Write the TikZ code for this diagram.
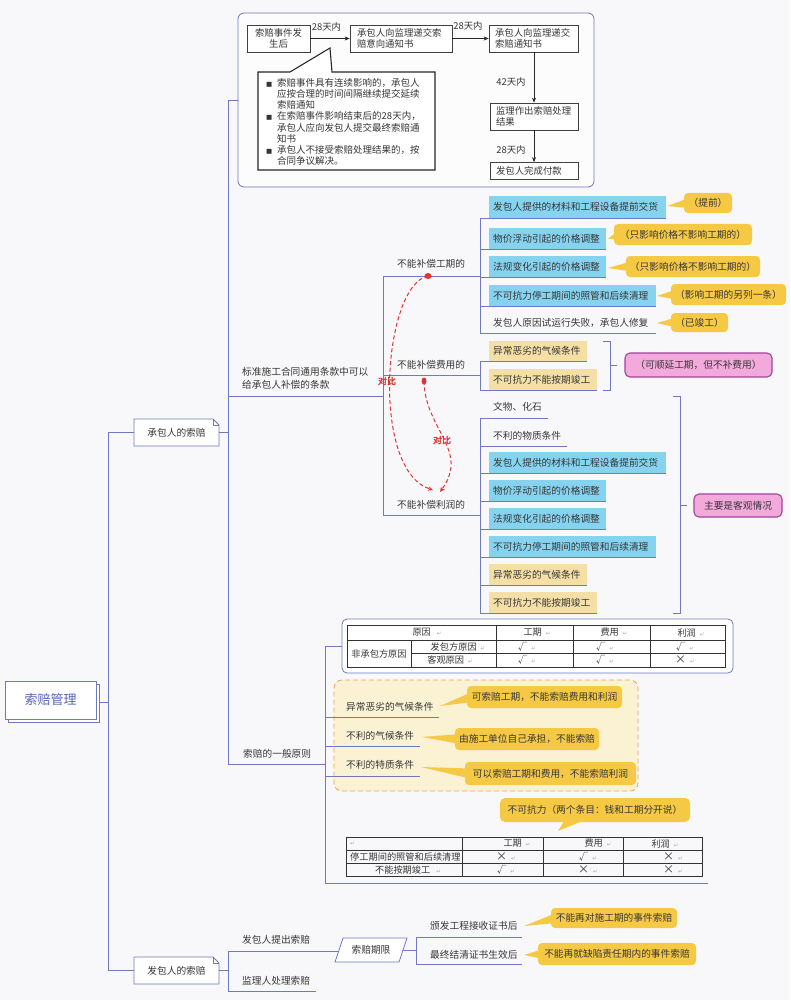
\documentclass[tikz,border=0pt]{standalone}
\usepackage{fontspec}
\setmainfont{Noto Sans CJK SC}[AutoFakeBold=2.5]
\newfontfamily\symf{DejaVu Sans}
\usetikzlibrary{arrows.meta,calc,shapes.geometric}
\definecolor{bg}{HTML}{F8F8FA}
\definecolor{ln}{HTML}{6E78C3}
\definecolor{cyanf}{HTML}{86D3F0}
\definecolor{tanf}{HTML}{F4DFA6}
\definecolor{yel}{HTML}{F6C945}
\definecolor{pinkf}{HTML}{F4A9DD}
\definecolor{pinkb}{HTML}{A2439E}
\definecolor{orf}{HTML}{FBF1D3}
\definecolor{orb}{HTML}{EFA25A}
\definecolor{redc}{HTML}{E03434}
\definecolor{txt}{HTML}{363636}
\definecolor{rootc}{HTML}{5563B5}
\tikzset{
  ml/.style={draw=ln, line width=0.8pt},
  tx/.style={anchor=west, inner sep=0pt},
  fbx/.style={draw=black!75, fill=white, line width=0.7pt, inner xsep=6pt, inner ysep=1pt},
  arr/.style={draw=black!85, line width=0.7pt, -{Stealth[length=5pt,width=4pt]}},
  ybody/.style={fill=yel, rounded corners=4pt, inner sep=0pt},
  pbody/.style={draw=pinkb, fill=pinkf, rounded corners=5pt, line width=1.1pt, inner sep=0pt},
  redarc/.style={draw=redc, line width=1pt, dash pattern=on 4pt off 2.5pt, -{Stealth[length=5pt,width=4.5pt]}},
  dbl/.style={text=redc, font=\fontsize{9}{10}\selectfont\bfseries, inner sep=0.5pt},
  tcell/.style={inner sep=0pt, font=\fontsize{9.2}{10}\selectfont},
  tline/.style={draw=black!80, line width=0.6pt},
  flabel/.style={inner sep=0pt, font=\fontsize{9.4}{11}\selectfont},
}
\newcommand{\rt}{{\color{black!35}\symf\fontsize{5.5}{6}\selectfont ↵}}
\newcommand{\bul}{{\symf\fontsize{6.5}{7}\selectfont ■}}
\newcommand{\ckm}{√}
\newcommand{\crs}{{\fontsize{11}{11}\selectfont ×}}
\newcommand{\ycall}[8]{%
  \fill[yel] (#6,#7) -- (#2+5,{(#3+#5)/2-5}) -- (#2+5,{(#3+#5)/2+5}) -- cycle;
  \node[ybody, minimum width={#4-#2}, minimum height={#5-#3}] (#1) at ({(#2+#4)/2},{(#3+#5)/2}) {#8};}
\newcommand{\leafbox}[6]{%
  \fill[#2] (489,#3) rectangle (#4,#5);
  \draw[ml] (480,#5) -- (#4,#5);
  \node[tx] (#1) at (493,{(#3+#5)/2}) {#6};}
\newcommand{\leafplain}[5]{%
  \node[tx] (#1) at (493,#2) {#5};
  \draw[ml] (480,#3) -- (#4,#3);}
\newcommand{\notebox}[4]{%
  \filldraw[fill=white, draw=ln, line width=0.8pt] (#2-42.5,#3-13.5) -- (#2+36.5,#3-13.5) -- (#2+42.5,#3-7.5) -- (#2+42.5,#3+13.5) -- (#2-42.5,#3+13.5) -- cycle;
  \draw[ln, line width=0.6pt] (#2+36.5,#3-13.5) -- (#2+36.5,#3-7.5) -- (#2+42.5,#3-7.5);
  \node[minimum width=85pt, minimum height=27pt, inner sep=0pt] (#1) at (#2,#3) {#4};}
\begin{document}
\begin{tikzpicture}[x=1pt,y=-1pt,font=\fontsize{9.7}{11.6}\selectfont,text=txt]
\fill[bg] (0,0) rectangle (790,1000);
\useasboundingbox (0,0) rectangle (790,1000);

%% root
\draw[ln, fill=white, line width=0.8pt] (8,684) rectangle (99,722);
\node[draw=ln, fill=white, line width=0.8pt, minimum width=91pt, minimum height=38pt, inner sep=0pt, text=rootc, font=\fontsize{13}{15}\selectfont] (root) at (50.5,700) {索赔管理};
\coordinate (rA) at (108,432.5);
\coordinate (rB) at (108,970.5);
\coordinate (rJ) at (108,702);
\draw[ml] (99,702) -- (rJ);
\draw[ml] (rA) -- (rB);
\notebox{cb}{176.5}{432.5}{承包人的索赔}
\notebox{fbz}{176.5}{970.5}{发包人的索赔}
\draw[ml] (rA) -- (cb.west);
\draw[ml] (rB) -- (fbz.west);

%% contractor trunk
\coordinate (tA) at (228,100);
\coordinate (tB) at (228,764);
\draw[ml] (cb.east) -- (cb.east -| tA);
\draw[ml] (tA) -- (tB);

%% flow chart box
\node[draw=ln, rounded corners=6pt, fill=white!60!bg, line width=0.8pt, minimum width=356pt, minimum height=174pt, inner sep=0pt] (flow) at (416,100) {};
\draw[ml] (tA) -- (flow.west);
\begin{scope}[font=\fontsize{9.4}{11}\selectfont]
\node[fbx, minimum width=63pt, minimum height=27pt, text width=51pt, align=center] (f1) at (278.5,38.5) {索赔事件发\\生后};
\node[fbx, minimum width=102pt, minimum height=27pt, text width=88pt, align=left] (f2) at (401,38.5) {承包人向监理递交索\\赔意向通知书};
\node[fbx, minimum width=89pt, minimum height=27pt, text width=77pt, align=left] (f3) at (533.5,38.5) {承包人向监理递交\\索赔通知书};
\node[fbx, minimum width=88pt, minimum height=27pt, text width=76pt, align=left] (f4) at (534,116.5) {监理作出索赔处理\\结果};
\node[fbx, minimum width=88pt, minimum height=17pt, text width=76pt, align=left] (f5) at (534,171) {发包人完成付款};
\end{scope}
\draw[arr] (f1.east) -- (f2.west);
\draw[arr] (f2.east) -- (f3.west);
\draw[arr] (f4.north |- f3.south) -- (f4.north);
\draw[arr] (f4.south) -- (f5.north);
\node[flabel] (l1) at (326.5,27) {28天内};
\node[flabel] (l2) at (468,26) {28天内};
\node[flabel] (l3) at (511,82) {42天内};
\node[flabel] (l4) at (511,150) {28天内};
\filldraw[draw=black!85, fill=white, line width=1.1pt] (258,72) -- (290,72) -- (330,48) -- (332,72) -- (435,72) -- (435,170) -- (258,170) -- cycle;
\node[anchor=north west, inner sep=0pt, align=left, font=\fontsize{9.5}{11.2}\selectfont] (cn) at (266,78) {%
\makebox[11pt][l]{\bul}索赔事件具有连续影响的，承包人\\
\hspace*{11pt}应按合理的时间间隔继续提交延续\\
\hspace*{11pt}索赔通知\\
\makebox[11pt][l]{\bul}在索赔事件影响结束后的28天内，\\
\hspace*{11pt}承包人应向发包人提交最终索赔通\\
\hspace*{11pt}知书\\
\makebox[11pt][l]{\bul}承包人不接受索赔处理结果的，按\\
\hspace*{11pt}合同争议解决。};

%% standard clause branch
\node[tx, anchor=south west, align=left, font=\fontsize{9.7}{13}\selectfont] (std) at (242,390) {标准施工合同通用条款中可以\\给承包人补偿的条款};
\coordinate (sA) at (383,276);
\coordinate (sB) at (383,515);
\draw[ml] (228,396) -- (383,396);
\draw[ml] (sA) -- (sB);

% no extension of time
\node[tx] (gq) at (397,264) {不能补偿工期的};
\draw[ml] (sA) -- (480,276);
\draw[ml] (480,218) -- (480,333);
\leafbox{g1}{cyanf}{196}{666}{218}{发包人提供的材料和工程设备提前交货}
\leafbox{g2}{cyanf}{228}{606}{249}{物价浮动引起的价格调整}
\leafbox{g3}{cyanf}{256}{606}{277}{法规变化引起的价格调整}
\leafbox{g4}{cyanf}{285}{656}{306}{不可抗力停工期间的照管和后续清理}
\leafplain{g5}{323}{333}{656}{发包人原因试运行失败，承包人修复}
\ycall{y1}{684}{193}{732}{213}{667}{206}{（提前）}
\ycall{y2}{614}{224}{752}{245}{608}{239}{（只影响价格不影响工期的）}
\ycall{y3}{626}{256}{760}{277}{608}{268}{（只影响价格不影响工期的）}
\ycall{y4}{671}{284}{786}{305}{657}{296}{（影响工期的另列一条）}
\ycall{y5}{671}{313}{728}{332}{657}{323}{（已竣工）}

% no cost
\node[tx] (fy) at (397,365) {不能补偿费用的};
\draw[ml] (383,375) -- (480,375);
\draw[ml] (480,361) -- (480,390);
\leafbox{h1}{tanf}{341}{587}{361}{异常恶劣的气候条件}
\leafbox{h2}{tanf}{369}{597}{390}{不可抗力不能按期竣工}
\draw[ml] (603,341) -- (610,341) -- (610,390) -- (603,390);
\coordinate (bk1) at (610,365.5);
\draw[ml] (bk1) -- ++(7,0);
\node[pbody, minimum width=147pt, minimum height=24pt] (pk1) at (698.5,365) {（可顺延工期，但不补费用）};

% no profit
\node[tx] (lr) at (397,505) {不能补偿利润的};
\draw[ml] (383,515) -- (480,515);
\draw[ml] (480,418) -- (480,613);
\leafplain{k1}{407}{418}{548}{文物、化石}
\leafplain{k2}{436}{446}{567}{不利的物质条件}
\leafbox{k3}{cyanf}{452}{666}{473}{发包人提供的材料和工程设备提前交货}
\leafbox{k4}{cyanf}{480}{606}{501}{物价浮动引起的价格调整}
\leafbox{k5}{cyanf}{508}{606}{529}{法规变化引起的价格调整}
\leafbox{k6}{cyanf}{536}{656}{557}{不可抗力停工期间的照管和后续清理}
\leafbox{k7}{tanf}{564}{587}{585}{异常恶劣的气候条件}
\leafbox{k8}{tanf}{592}{597}{613}{不可抗力不能按期竣工}
\draw[ml] (673,396) -- (680,396) -- (680,613) -- (673,613);
\coordinate (bk2) at (680,505);
\draw[ml] (bk2) -- ++(7,0);
\node[pbody, minimum width=88pt, minimum height=23pt] (pk2) at (738,505.5) {主要是客观情况};

% comparison arcs
\node[ellipse, fill=redc, inner sep=0pt, minimum width=7pt, minimum height=6pt] (rd1) at (428,276) {};
\node[ellipse, fill=redc, inner sep=0pt, minimum width=5pt, minimum height=7pt] (rd2) at (424,381) {};
\coordinate (re1) at (433,490);
\coordinate (re2) at (440,492);
\draw[redarc] (rd1.center) .. controls (383,285) and (370,470) .. (re1);
\draw[redarc] (rd2.center) .. controls (425,430) and (470,450) .. (re2);
\node[dbl] (db1) at (387,381) {对比};
\node[dbl] (db2) at (442,440) {对比};

%% general principles
\node[tx] (gp) at (243,754) {索赔的一般原则};
\coordinate (gA) at (325,646);
\coordinate (gB) at (325,883);
\draw[ml] (tB) -- (325,764);
\draw[ml] (gA) -- (gB);

% table 1
\node[draw=ln, rounded corners=5pt, fill=white, line width=0.8pt, minimum width=391pt, minimum height=54pt, inner sep=0pt] (tb1) at (537.5,646) {};
\draw[ml] (gA) -- (tb1.west);
\draw[tline] (347,625) rectangle (725,667);
\draw[tline] (347,640) -- (725,640);
\draw[tline] (411,653) -- (725,653);
\draw[tline] (411,640) -- (411,667);
\draw[tline] (496,625) -- (496,667);
\draw[tline] (573,625) -- (573,667);
\draw[tline] (650,625) -- (650,667);
\node[tcell] (ta1) at (427,632.5) {原因\hspace{6pt}\rt};
\node[tcell] (ta2) at (537,632.5) {工期\hspace{4pt}\rt};
\node[tcell] (ta3) at (614,632.5) {费用\hspace{4pt}\rt};
\node[tcell] (ta4) at (691,632.5) {利润\hspace{4pt}\rt};
\node[tcell] (tb0) at (379,653.5) {非承包方原因};
\node[tcell] (tb2) at (458,646.5) {发包方原因\hspace{4pt}\rt};
\node[tcell] (tb3) at (527,646.5) {\ckm\hspace{4pt}\rt};
\node[tcell] (tb4) at (605,646.5) {\ckm\hspace{4pt}\rt};
\node[tcell] (tb5) at (685,646.5) {\ckm\hspace{4pt}\rt};
\node[tcell] (tc2) at (450,660) {客观原因\hspace{4pt}\rt};
\node[tcell] (tc3) at (527,660) {\ckm\hspace{4pt}\rt};
\node[tcell] (tc4) at (605,660) {\ckm\hspace{4pt}\rt};
\node[tcell] (tc5) at (685,660) {\crs\hspace{4pt}\rt};

% orange group
\node[draw=orb, dash pattern=on 5pt off 3pt, fill=orf, rounded corners=8pt, minimum width=304pt, minimum height=111pt, inner sep=0pt, line width=0.8pt] (ob) at (486,735.5) {};
\node[tx] (o1) at (346,707) {异常恶劣的气候条件};
\draw[ml] (325,717) -- (439,717);
\node[tx] (o2) at (346,736) {不利的气候条件};
\draw[ml] (325,746) -- (420,746);
\node[tx] (o3) at (346,765) {不利的特质条件};
\draw[ml] (325,776) -- (420,776);
\ycall{oc1}{467}{686}{622}{708}{440}{706}{可索赔工期，不能索赔费用和利润}
\ycall{oc2}{455}{728}{599}{750}{422}{737}{由施工单位自己承担，不能索赔}
\ycall{oc3}{465}{762}{636}{785}{421}{767}{可以索赔工期和费用，不能索赔利润}

% force majeure note + table 2
\fill[yel] (558,831) -- (566,818) -- (590,818) -- cycle;
\node[ybody, rounded corners=5pt, minimum width=190pt, minimum height=24pt] (fk) at (595,810) {不可抗力（两个条目：钱和工期分开说）};
\draw[tline] (346,837) rectangle (702,876);
\draw[tline] (346,850) -- (702,850);
\draw[tline] (346,863) -- (702,863);
\draw[tline] (462,837) -- (462,876);
\draw[tline] (543,837) -- (543,876);
\draw[tline] (623,837) -- (623,876);
\node[tcell, anchor=west] (ua1) at (350,843.5) {\rt};
\node[tcell] (ua2) at (517,843.5) {工期\hspace{4pt}\rt};
\node[tcell] (ua3) at (598,843.5) {费用\hspace{4pt}\rt};
\node[tcell] (ua4) at (665,843.5) {利润\hspace{4pt}\rt};
\node[tcell, anchor=west] (ub1) at (350,856.5) {停工期间的照管和后续清理};
\node[tcell] (ub2) at (506,856.5) {\crs\hspace{4pt}\rt};
\node[tcell] (ub3) at (588,856.5) {\ckm\hspace{4pt}\rt};
\node[tcell] (ub4) at (673,856.5) {\crs\hspace{4pt}\rt};
\node[tcell] (uc1) at (408,869.5) {不能按期竣工\hspace{6pt}\rt};
\node[tcell] (uc2) at (506,869.5) {\ckm\hspace{4pt}\rt};
\node[tcell] (uc3) at (588,869.5) {\crs\hspace{4pt}\rt};
\node[tcell] (uc4) at (673,869.5) {\crs\hspace{4pt}\rt};
\draw[ml] (gB) -- (708,883);

%% employer claims
\coordinate (bA) at (228,951);
\coordinate (bB) at (228,991);
\draw[ml] (fbz.east) -- (fbz.east -| bA);
\draw[ml] (bA) -- (bB);
\node[tx] (bp1) at (242,940) {发包人提出索赔};
\node[tx] (bp2) at (242,981) {监理人处理索赔};
\draw[ml] (bB) -- (316,991);
\filldraw[fill=white, draw=ln, line width=0.8pt] (343,938) -- (407,938) -- (399,962) -- (335,962) -- cycle;
\node[inner sep=0pt] (qx) at (371,950) {索赔期限};
\draw[ml] (bA) -- (339,951);
\coordinate (qA) at (416,937);
\coordinate (qB) at (416,964);
\draw[ml] (403,950) -- (416,950);
\draw[ml] (qA) -- (qB);
\node[tx] (q1) at (430,926) {颁发工程接收证书后};
\draw[ml] (qA) -- (522,937);
\node[tx] (q2) at (430,955) {最终结清证书生效后};
\draw[ml] (qB) -- (522,964);
\ycall{bc1}{551}{908}{677}{928}{524}{926}{不能再对施工期的事件索赔}
\ycall{bc2}{538}{943}{696}{965}{524}{955}{不能再就缺陷责任期内的事件索赔}
\end{tikzpicture}
\end{document}
